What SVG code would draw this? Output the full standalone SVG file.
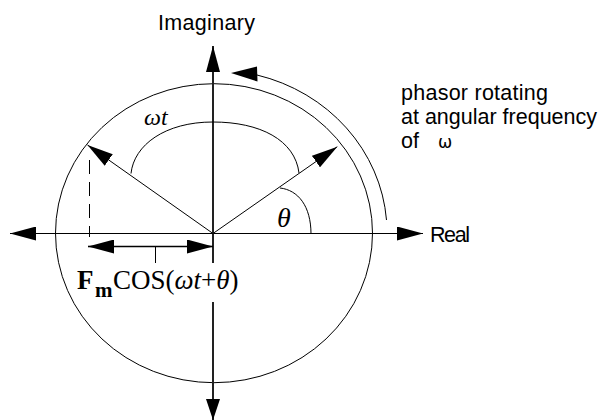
<svg xmlns="http://www.w3.org/2000/svg" width="607" height="420" viewBox="0 0 607 420">
<style>
.ln{stroke:#000;stroke-width:1;fill:none}
.ax{stroke:#222;stroke-width:2;fill:none}
.ah{fill:#000;stroke:none}
.sans{font-family:"Liberation Sans",Arial,sans-serif;font-size:21.5px;fill:#000}
.ser{font-family:"Liberation Serif","Times New Roman",serif;fill:#000}
.it{font-style:italic}
</style>
<defs>
<marker id="arr" markerUnits="userSpaceOnUse" markerWidth="26" markerHeight="14" refX="26" refY="7" orient="auto" viewBox="0 0 26 14">
<path d="M0,0 L26,7 L0,14 z" fill="#000"/>
</marker>
<marker id="arrS" markerUnits="userSpaceOnUse" markerWidth="21" markerHeight="14" refX="21" refY="7" orient="auto" viewBox="0 0 21 14">
<path d="M0,0 L21,7 L0,14 z" fill="#000"/>
</marker>
</defs>
<rect width="607" height="420" fill="#fff"/>
<g id="circle">
<ellipse class="ln" cx="214" cy="233.2" rx="158.5" ry="149.5"/>
</g>
<g id="connectors">
<line class="ln" x1="213" y1="233.5" x2="10" y2="233.5" marker-end="url(#arr)"/>
<line class="ln" x1="213" y1="233.5" x2="423" y2="233.5" marker-end="url(#arr)"/>
<line class="ax" x1="213" y1="263" x2="213" y2="46" marker-end="url(#arr)"/>
<line class="ax" x1="213" y1="302" x2="213" y2="420" marker-end="url(#arrS)"/>
<line class="ln" x1="213" y1="233.5" x2="87.5" y2="145" marker-end="url(#arr)"/>
<line class="ln" x1="213" y1="233.5" x2="337.3" y2="146.7" marker-end="url(#arr)"/>
<line class="ln" x1="89.5" y1="160" x2="89.5" y2="237" stroke-dasharray="14,8"/>
<line x1="100" y1="246.5" x2="200" y2="246.5" stroke="#000" stroke-width="1.6"/>
<line x1="112" y1="246.5" x2="88" y2="246.5" stroke="#000" stroke-width="1.6" marker-end="url(#arr)"/>
<line x1="190" y1="246.5" x2="213" y2="246.5" stroke="#000" stroke-width="1.6" marker-end="url(#arr)"/>
<line class="ln" x1="155.5" y1="246" x2="155.5" y2="263"/>
<path class="ln" d="M131,173.5 C134,145 165,122 213,122 C260,122 295,140 299,173"/>
<path class="ln" d="M280,188 C298,190 311,206 311,234"/>
<path class="ln" d="M386.5,220 A173,163 0 0,0 257,75"/>
<polygon class="ah" points="231,73 257,66.5 257.5,81.5"/>
</g>
<g id="labels">
<text class="sans" x="158" y="30" textLength="97" lengthAdjust="spacing">Imaginary</text>
<text class="sans" x="430" y="242" textLength="40" lengthAdjust="spacing">Real</text>
<text class="sans" x="401" y="100" textLength="147" lengthAdjust="spacing">phasor rotating</text>
<text class="sans" x="401" y="124" textLength="196" lengthAdjust="spacing">at angular frequency</text>
<text class="sans" x="401" y="148">of<tspan x="438" font-size="17" font-family="DejaVu Sans, sans-serif">ω</tspan></text>
<text class="ser it" x="144" y="125" font-size="24">ωt</text>
<text class="ser it" x="277" y="227" font-size="28">θ</text>
<text class="ser" y="289" font-size="27"><tspan x="77" font-weight="bold">F</tspan><tspan x="95" y="297" font-size="21" font-weight="bold">m</tspan><tspan x="113" y="289">COS(<tspan class="it">ωt</tspan>+<tspan class="it">θ</tspan>)</tspan></text>
</g>
</svg>
